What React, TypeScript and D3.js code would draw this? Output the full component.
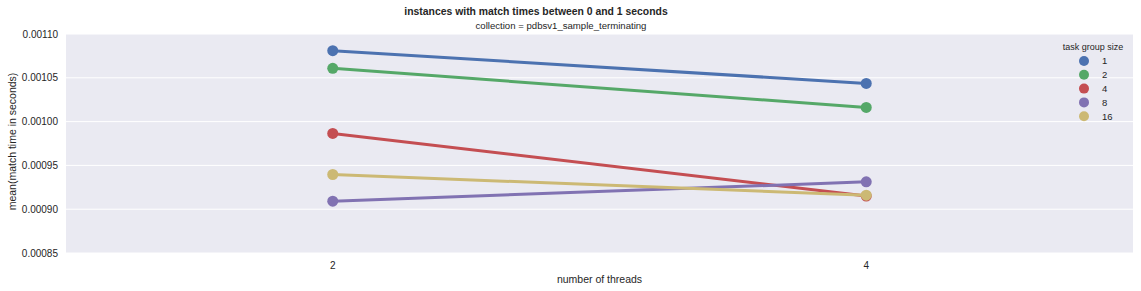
import { useEffect, useRef } from "react";
import * as d3 from "d3";

const threads = ["2", "4"];
const groupSizes = ["1", "2", "4", "8", "16"];
const meanTime1 = [0.001081, 0.0010436];
const meanTime2 = [0.0010608, 0.0010162];
const meanTime4 = [0.0009865, 0.000915];
const meanTime8 = [0.0009091, 0.0009312];
const meanTime16 = [0.0009396, 0.000916];
const yTicks = [0.00085, 0.0009, 0.00095, 0.001, 0.00105, 0.0011];
const palette = ["#4C72B0", "#55A868", "#C44E52", "#8172B2", "#CCB974"];

const W = 1141;
const H = 291;

export default function App() {
  const svgRef = useRef<SVGSVGElement>(null);

  useEffect(() => {
    if (!svgRef.current) return;
    const svg = d3.select(svgRef.current);
    svg.selectAll("*").remove();

    const margin = { top: 34, right: 8, bottom: 38, left: 66 };
    const innerW = W - margin.left - margin.right;
    const innerH = H - margin.top - margin.bottom;
    const font = "'Liberation Sans', Arial, sans-serif";
    const ink = "#262626";

    const x = d3.scalePoint<string>().domain(threads).range([0, innerW]).padding(0.5);
    const y = d3.scaleLinear().domain([0.00085, 0.0011]).range([innerH, 0]);

    const g = svg.append("g").attr("transform", `translate(${margin.left},${margin.top})`);

    g.append("rect").attr("width", innerW).attr("height", innerH).attr("fill", "#EAEAF2");

    g.append("g")
      .selectAll("line")
      .data(yTicks)
      .join("line")
      .attr("x1", 0)
      .attr("x2", innerW)
      .attr("y1", (d) => y(d))
      .attr("y2", (d) => y(d))
      .attr("stroke", "#fff")
      .attr("stroke-width", 1);

    g.append("g")
      .selectAll("text")
      .data(yTicks)
      .join("text")
      .attr("x", -8)
      .attr("y", (d) => y(d))
      .attr("dy", "0.35em")
      .attr("text-anchor", "end")
      .attr("font-family", font)
      .attr("font-size", 10)
      .attr("fill", ink)
      .text((d) => d3.format(".5f")(d));

    g.append("g")
      .selectAll("text")
      .data(threads)
      .join("text")
      .attr("x", (d) => x(d)!)
      .attr("y", innerH + 16)
      .attr("text-anchor", "middle")
      .attr("font-family", font)
      .attr("font-size", 10)
      .attr("fill", ink)
      .text((d) => d);

    const series = [meanTime1, meanTime2, meanTime4, meanTime8, meanTime16];
    const line = d3
      .line<number>()
      .x((_, i) => x(threads[i])!)
      .y((d) => y(d));

    series.forEach((vals, si) => {
      const s = g.append("g");
      s.append("path")
        .attr("d", line(vals))
        .attr("fill", "none")
        .attr("stroke", palette[si])
        .attr("stroke-width", 3);
      s.selectAll("circle")
        .data(vals)
        .join("circle")
        .attr("cx", (_, i) => x(threads[i])!)
        .attr("cy", (d) => y(d))
        .attr("r", 5.5)
        .attr("fill", palette[si]);
    });

    // legend
    const lg = g.append("g").attr("transform", `translate(${1084 - margin.left},${46.5 - margin.top})`);
    lg.append("text")
      .attr("x", 9)
      .attr("y", 0)
      .attr("dy", "0.35em")
      .attr("text-anchor", "middle")
      .attr("font-family", font)
      .attr("font-size", 9)
      .attr("fill", ink)
      .text("task group size");
    groupSizes.forEach((lab, i) => {
      const cy = 14.5 + i * 13.8;
      lg.append("circle").attr("cx", 0).attr("cy", cy).attr("r", 5).attr("fill", palette[i]);
      lg.append("text")
        .attr("x", 18)
        .attr("y", cy)
        .attr("dy", "0.35em")
        .attr("font-family", font)
        .attr("font-size", 9.5)
        .attr("fill", ink)
        .text(lab);
    });

    // titles
    svg.append("text")
      .attr("x", 536)
      .attr("y", 15)
      .attr("text-anchor", "middle")
      .attr("font-family", font)
      .attr("font-size", 10.4)
      .attr("font-weight", "bold")
      .attr("fill", ink)
      .text("instances with match times between 0 and 1 seconds");
    svg.append("text")
      .attr("x", 561)
      .attr("y", 29)
      .attr("text-anchor", "middle")
      .attr("font-family", font)
      .attr("font-size", 9.6)
      .attr("fill", ink)
      .text("collection = pdbsv1_sample_terminating");

    svg.append("text")
      .attr("x", margin.left + innerW / 2)
      .attr("y", 283)
      .attr("text-anchor", "middle")
      .attr("font-family", font)
      .attr("font-size", 10.5)
      .attr("fill", ink)
      .text("number of threads");
    svg.append("text")
      .attr("transform", `translate(16,${margin.top + innerH / 2 - 2}) rotate(-90)`)
      .attr("text-anchor", "middle")
      .attr("font-family", font)
      .attr("font-size", 10.5)
      .attr("fill", ink)
      .text("mean(match time in seconds)");
  }, []);

  return (
    <svg
      ref={svgRef}
      width={W}
      height={H}
      style={{ position: "absolute", left: 0, top: 0, background: "#fff" }}
    />
  );
}
